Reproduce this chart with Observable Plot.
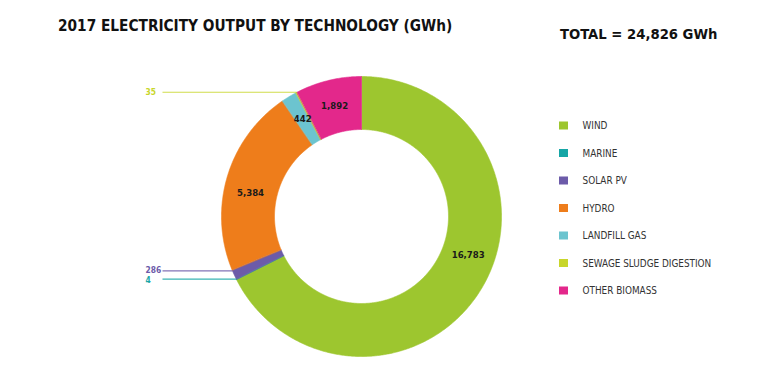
<!DOCTYPE html>
<html><head><meta charset="utf-8">
<script src="https://cdn.jsdelivr.net/npm/d3@7"></script>
<script src="https://cdn.jsdelivr.net/npm/@observablehq/plot@0.6"></script>
<style>
body{margin:0;background:#fff;}
#wrap{position:relative;width:762px;height:377px;overflow:hidden;background:#fff}
.t{position:absolute;font-family:"DejaVu Sans Condensed","DejaVu Sans",sans-serif;font-stretch:condensed;font-weight:bold;color:#111;white-space:nowrap;line-height:1}
#title{left:58px;top:19px;font-size:15.25px}
#total{left:560px;top:27px;font-size:14.7px}
#chart{position:absolute;left:0;top:0}
</style></head><body>
<div id="wrap"><div id="chart"></div><div class="t" id="title">2017 ELECTRICITY OUTPUT BY TECHNOLOGY (GWh)</div><div class="t" id="total">TOTAL = 24,826 GWh</div></div>
<script>
const technologies = ["WIND","MARINE","SOLAR PV","HYDRO","LANDFILL GAS","SEWAGE SLUDGE DIGESTION","OTHER BIOMASS"];
const outputGWh = [16783, 4, 286, 5384, 442, 35, 1892];
const colors = ["#9dc62f","#16a6a6","#6c5ba9","#ee7d1b","#6cc4cf","#c8d62b","#e3288b"];

// layout constants
const W = 762, H = 377, cx = 361, cy = 216, R = 140, r = 87, labelR = 113.5;
const calloutShare = 0.015, calloutTextX = 145, calloutLineX = 162, calloutMinGap = 10;
const labelAngleShift = {"WIND": -11.7, "HYDRO": -4.5}; // degrees
const legendX = 559, legendTextX = 582, legendTop = 125.5, legendStep = 27.5;

const total = d3.sum(outputGWh);
const rows = technologies.map((t, i) => ({tech: t, value: outputGWh[i]}));
const arcs = d3.pie().sort(null).value(d => d.value).startAngle(0).endAngle(2 * Math.PI)(rows);
const fmt = d3.format(",");
const px = (rad, a) => cx + rad * Math.sin(a);
const py = (rad, a) => cy - rad * Math.cos(a);

const poly = [];
for (const a of arcs) {
  const n = Math.max(2, Math.ceil((a.endAngle - a.startAngle) / (Math.PI / 360)));
  for (let k = 0; k <= n; k++) { const t = a.startAngle + (a.endAngle - a.startAngle) * k / n; poly.push({tech: a.data.tech, x: px(R, t), y: py(R, t)}); }
  for (let k = n; k >= 0; k--) { const t = a.startAngle + (a.endAngle - a.startAngle) * k / n; poly.push({tech: a.data.tech, x: px(r, t), y: py(r, t)}); }
}

const inside = [], callouts = [];
for (const a of arcs) {
  const share = a.data.value / total;
  if (share >= calloutShare) {
    const m = (a.startAngle + a.endAngle) / 2 + (labelAngleShift[a.data.tech] || 0) * Math.PI / 180;
    inside.push({tech: a.data.tech, label: fmt(a.data.value), x: px(labelR, m), y: py(labelR, m)});
  } else {
    const m = a.startAngle + 0.9 * (a.endAngle - a.startAngle);
    const y = py(R, m);
    callouts.push({tech: a.data.tech, label: fmt(a.data.value), x1: calloutLineX, x2: px(R, m), y, ty: y, tx: calloutTextX});
  }
}
// nudge callout texts apart so they don't collide
callouts.sort((a, b) => a.ty - b.ty);
for (let i = 1; i < callouts.length; i++) {
  const gap = callouts[i].ty - callouts[i - 1].ty;
  if (gap < calloutMinGap) { const s = (calloutMinGap - gap) / 2; callouts[i - 1].ty -= s; callouts[i].ty += s; }
}
const legend = technologies.map((t, i) => ({tech: t, y: legendTop + i * legendStep}));

const chart = Plot.plot({
  width: W, height: H, margin: 0,
  style: {background: "transparent", fontFamily: "'DejaVu Sans Condensed','DejaVu Sans',sans-serif"},
  x: {domain: [0, W], range: [0, W], axis: null},
  y: {domain: [0, H], range: [0, H], axis: null},
  color: {domain: technologies, range: colors},
  marks: [
    Plot.line(poly, {x: "x", y: "y", z: "tech", fill: "tech", stroke: "tech", strokeWidth: 0.6, curve: "linear-closed"}),
    Plot.link(callouts, {x1: "x1", x2: "x2", y1: "y", y2: "y", stroke: "tech", strokeWidth: 1.1, strokeOpacity: 0.85}),
    Plot.text(callouts, {x: "tx", y: "ty", text: "label", fill: "tech", textAnchor: "start", fontWeight: "bold", fontSize: 8.4}),
    Plot.text(inside, {x: "x", y: "y", text: "label", fill: "#1a1a1a", fontWeight: "bold", fontSize: 9.5}),
    Plot.rect(legend, {x1: legendX, x2: legendX + 9, y1: d => d.y - 4, y2: d => d.y + 4, fill: "tech"}),
    Plot.text(legend, {x: legendTextX, y: "y", text: "tech", fill: "#333", textAnchor: "start", fontSize: 9.9})
  ]
});
document.getElementById("chart").appendChild(chart);
</script>
</body></html>
